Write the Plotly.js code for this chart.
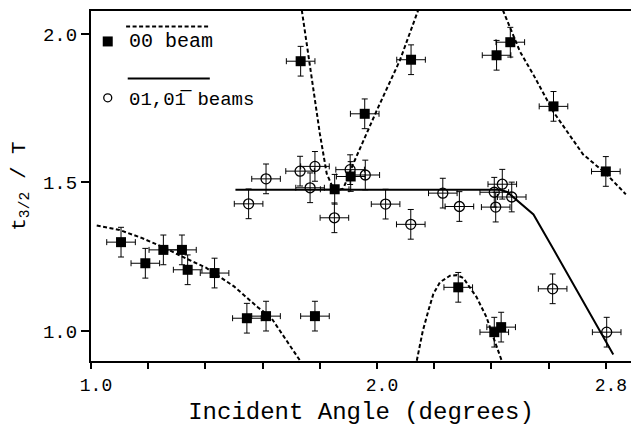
<!DOCTYPE html>
<html>
<head>
<meta charset="utf-8">
<script src="https://cdn.plot.ly/plotly-3.0.1.min.js"></script>
<style>html,body{margin:0;padding:0;background:#fff;}#chart{width:631px;height:429px;}</style>
</head>
<body>
<div id="chart"></div>
<script>
// 00 beam (filled squares)
const beam00X = [1.105, 1.190, 1.253, 1.318, 1.338, 1.432, 1.545, 1.612, 1.783, 1.852, 1.908, 1.733, 1.957, 2.119, 2.418, 2.466, 2.617, 2.800, 2.284, 2.410, 2.434];
const beam00Y = [1.299, 1.228, 1.273, 1.273, 1.206, 1.195, 1.043, 1.050, 1.050, 1.477, 1.520, 1.908, 1.731, 1.913, 1.928, 1.972, 1.756, 1.537, 1.147, 0.996, 1.013];
// 01,01bar beams (open circles)
const beam01X = [1.551, 1.612, 1.731, 1.766, 1.783, 1.851, 1.906, 1.959, 2.030, 2.118, 2.230, 2.288, 2.410, 2.415, 2.438, 2.471, 2.614, 2.803];
const beam01Y = [1.428, 1.512, 1.538, 1.482, 1.554, 1.381, 1.543, 1.525, 1.427, 1.359, 1.464, 1.419, 1.467, 1.417, 1.494, 1.451, 1.142, 0.996];
const errAngle = 0.05;
const errRatio = 0.05;

// theory curves, 00 beam (dashed)
const th00aX = [1.02, 1.10, 1.175, 1.25, 1.33, 1.402, 1.50, 1.583, 1.629, 1.731];
const th00aY = [1.355, 1.34, 1.314, 1.283, 1.245, 1.213, 1.15, 1.08, 1.046, 0.90];
const th00bX = [1.737, 1.766, 1.80, 1.824, 1.847, 1.865, 1.882, 1.917, 1.999, 2.080, 2.144];
const th00bY = [2.08, 1.89, 1.665, 1.53, 1.479, 1.475, 1.479, 1.563, 1.742, 1.911, 2.08];
const th00cX = [2.44, 2.477, 2.50, 2.547, 2.617, 2.72, 2.80, 2.87];
const th00cY = [2.08, 1.99, 1.94, 1.862, 1.737, 1.595, 1.53, 1.46];
const th00dX = [2.139, 2.16, 2.18, 2.197, 2.22, 2.255, 2.28, 2.302, 2.348, 2.383, 2.41, 2.436];
const th00dY = [0.90, 1.00, 1.07, 1.125, 1.164, 1.186, 1.188, 1.178, 1.114, 1.046, 0.97, 0.90];
// theory curve, 01 beams (solid)
const th01X = [1.505, 2.43, 2.455, 2.48, 2.51, 2.547, 2.617, 2.70, 2.80, 2.826];
const th01Y = [1.475, 1.475, 1.468, 1.447, 1.422, 1.392, 1.275, 1.135, 0.962, 0.921];

const xTickVals = [1.0, 1.2, 1.4, 1.6, 1.8, 2.0, 2.2, 2.4, 2.6, 2.8];
const xTickText = ['1.0', ' ', ' ', ' ', ' ', '2.0', ' ', ' ', ' ', '2.8'];
const yTickVals = [1.0, 1.5, 2.0];
const yTickText = ['1.0', '1.5', '2.0'];

const FONT = 'Liberation Mono, Courier New, monospace';
const dashStyle = {color: 'black', width: 2, dash: '4px,2.5px'};

function dashed(x, y) {
  return {x: x, y: y, mode: 'lines', line: dashStyle, showlegend: false, hoverinfo: 'skip'};
}
const traces = [
  dashed(th00aX, th00aY), dashed(th00bX, th00bY), dashed(th00cX, th00cY), dashed(th00dX, th00dY),
  {x: th01X, y: th01Y, mode: 'lines', line: {color: 'black', width: 2}, showlegend: false},
  {x: beam01X, y: beam01Y, mode: 'markers', showlegend: false,
   marker: {symbol: 'circle-open', size: 10, color: 'black', line: {color: 'black', width: 1.3}},
   error_x: {type: 'constant', value: errAngle, color: 'black', thickness: 1, width: 3},
   error_y: {type: 'constant', value: errRatio, color: 'black', thickness: 1, width: 3}},
  {x: beam00X, y: beam00Y, mode: 'markers', showlegend: false,
   marker: {symbol: 'square', size: 10, color: 'black'},
   error_x: {type: 'constant', value: errAngle, color: 'black', thickness: 1, width: 3},
   error_y: {type: 'constant', value: errRatio, color: 'black', thickness: 1, width: 3}}
];

const layout = {
  width: 631, height: 429,
  margin: {l: 91, r: 0, t: 10.5, b: 68},
  paper_bgcolor: 'white', plot_bgcolor: 'white',
  font: {family: FONT, color: 'black'},
  showlegend: false,
  xaxis: {
    range: [1.0, 2.888], showgrid: false, zeroline: false,
    showline: true, linecolor: 'black', linewidth: 2, mirror: true,
    ticks: 'outside', ticklen: 6, tickwidth: 2, tickcolor: 'black',
    tickmode: 'array', tickvals: xTickVals, ticktext: xTickText,
    tickfont: {family: FONT, size: 18}, ticklabelshift: 5,
    title: {text: 'Incident Angle (degrees)', font: {family: FONT, size: 24}, standoff: 8}
  },
  yaxis: {
    range: [0.899, 2.077], showgrid: false, zeroline: false,
    showline: true, linecolor: 'black', linewidth: 2,
    ticks: 'outside', ticklen: 8, tickwidth: 2, tickcolor: 'black',
    tickmode: 'array', tickvals: yTickVals, ticktext: yTickText,
    tickfont: {family: FONT, size: 19},
    title: {text: 't<sub>3/2</sub> / T', font: {family: FONT, size: 21}, standoff: 12}
  },
  shapes: [
    {type: 'line', xref: 'paper', yref: 'paper', x0: 0.065, x1: 0.22, y0: 0.956, y1: 0.956, line: dashStyle},
    {type: 'line', xref: 'paper', yref: 'paper', x0: 0.068, x1: 0.22, y0: 0.807, y1: 0.807, line: {color: 'black', width: 2}},
    {type: 'rect', xref: 'paper', yref: 'paper', xsizemode: 'pixel', ysizemode: 'pixel',
     xanchor: 0.031, yanchor: 0.913, x0: -5, x1: 5, y0: -5, y1: 5, fillcolor: 'black', line: {width: 0}},
    {type: 'circle', xref: 'paper', yref: 'paper', xsizemode: 'pixel', ysizemode: 'pixel',
     xanchor: 0.031, yanchor: 0.752, x0: -4, x1: 4, y0: -4, y1: 4, line: {color: 'black', width: 1.3}}
  ],
  annotations: [
    {xref: 'paper', yref: 'paper', x: 0.066, y: 0.912, xanchor: 'left', yanchor: 'middle', showarrow: false,
     text: '00 beam', font: {family: FONT, size: 20}},
    {xref: 'paper', yref: 'paper', x: 0.066, y: 0.747, xanchor: 'left', yanchor: 'middle', showarrow: false,
     text: '01,01\u0305 beams', font: {family: FONT, size: 19}}
  ]
};

Plotly.newPlot('chart', traces, layout, {displayModeBar: false, staticPlot: true});
</script>
</body>
</html>
